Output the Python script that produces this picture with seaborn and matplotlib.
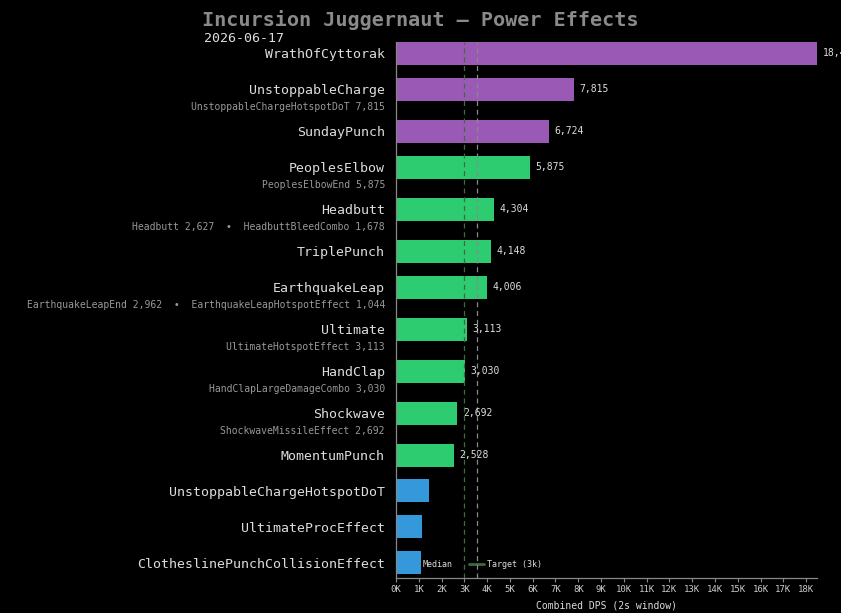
import numpy as np
import pandas as pd
import matplotlib
matplotlib.use("Agg")
import matplotlib.pyplot as plt
import matplotlib.transforms as mtransforms
from matplotlib.lines import Line2D
from matplotlib.ticker import FuncFormatter, MultipleLocator
import seaborn as sns

# Data
effects = ["WrathOfCyttorak", "UnstoppableCharge", "SundayPunch", "PeoplesElbow",
           "Headbutt", "TriplePunch", "EarthquakeLeap", "Ultimate", "HandClap",
           "Shockwave", "MomentumPunch", "UnstoppableChargeHotspotDoT",
           "UltimateProcEffect", "ClotheslinePunchCollisionEffect"]
dps = [18480, 7815, 6724, 5875, 4304, 4148, 4006, 3113, 3030, 2692, 2528, 1450, 1140, 1095]
tier = ["top", "top", "top", "mid", "mid", "mid", "mid", "mid", "mid", "mid", "mid",
        "low", "low", "low"]
components = [
    [],
    [("UnstoppableChargeHotspotDoT", 7815)],
    [],
    [("PeoplesElbowEnd", 5875)],
    [("Headbutt", 2627), ("HeadbuttBleedCombo", 1678)],
    [],
    [("EarthquakeLeapEnd", 2962), ("EarthquakeLeapHotspotEffect", 1044)],
    [("UltimateHotspotEffect", 3113)],
    [("HandClapLargeDamageCombo", 3030)],
    [("ShockwaveMissileEffect", 2692)],
    [], [], [], [],
]
target = 3000
title = "Incursion Juggernaut \u2014 Power Effects"
date = "2026-06-17"

palette = {"top": "#9b59b6", "mid": "#2ecc71", "low": "#3498db"}
target_color = "#3d6b3d"
median_color = "#8a8a8a"

# rows with a component line get a bit more room below
pos = [0.0]
for c in components[:-1]:
    pos.append(pos[-1] + 1 + (1 / 6 if c else 0))

df = pd.DataFrame({"effect": effects, "dps": dps, "tier": tier, "pos": pos})
median = float(np.median(dps))

sns.set_theme(style="dark")
plt.rcParams["font.family"] = ["DejaVu Sans Mono", "DejaVu Sans"]

fig = plt.figure(figsize=(8.41, 6.13), dpi=100, facecolor="black")
ax = fig.add_axes([0.4709, 0.0571, 0.5006, 0.8744])
ax.set_facecolor("black")

sns.barplot(data=df, x="dps", y="pos", hue="tier", palette=palette, orient="h",
            native_scale=True, dodge=False, width=0.64, legend=False, ax=ax,
            saturation=1, linewidth=0, edgecolor="none", errorbar=None)

ax.axvline(target, color=target_color, lw=0.9, ls=(0, (4, 3)), zorder=3)
ax.axvline(median, color=median_color, lw=0.9, ls=(0, (4, 3)), zorder=3)

ax.set_xlim(0, max(dps))
ax.set_ylim(pos[-1] + 0.42, -0.32)

ax.set_yticks(pos)
ax.set_yticklabels(effects, color="#dddddd", fontsize=9.5)
ax.tick_params(axis="y", length=0, pad=8)
ax.xaxis.set_major_locator(MultipleLocator(1000))
ax.xaxis.set_major_formatter(FuncFormatter(lambda v, _: f"{int(v / 1000)}K"))
ax.tick_params(axis="x", colors="#888888", labelcolor="#cccccc", labelsize=6.5,
               length=3, width=0.8, pad=2, bottom=True)
ax.set_xlabel("Combined DPS (2s window)", color="#dddddd", fontsize=7, labelpad=5)
ax.set_ylabel("")

for s in ["top", "right"]:
    ax.spines[s].set_visible(False)
for s in ["left", "bottom"]:
    ax.spines[s].set_visible(True)
    ax.spines[s].set_color("#888888")
    ax.spines[s].set_linewidth(0.9)

# value labels
for v, p, t in zip(dps, pos, tier):
    if t != "low":
        ax.annotate(f"{v:,}", (v, p), xytext=(4, 0), textcoords="offset points",
                    va="center", ha="left", fontsize=7, color="#dddddd",
                    annotation_clip=False)

# component lines under each label
trans = mtransforms.blended_transform_factory(ax.transAxes, ax.transData)
offset = mtransforms.ScaledTranslation(-8 / 72, 0, fig.dpi_scale_trans)
for c, p in zip(components, pos):
    if c:
        txt = "  \u2022  ".join(f"{n} {v:,}" for n, v in c)
        ax.text(0, p + 0.5, txt, transform=trans + offset, ha="right", va="center",
                fontsize=7, color="#999999")

handles = [Line2D([], [], color=median_color, lw=0.9, ls=(0, (4, 3)), label="Median"),
           Line2D([], [], color=target_color, lw=2, label="Target (3k)")]
leg = ax.legend(handles=handles, loc="lower left", ncol=2, frameon=False,
                fontsize=6, labelcolor="#dddddd", handlelength=1.8, columnspacing=2.0,
                handletextpad=0.35, borderaxespad=0.75, borderpad=0.3)
leg.set_zorder(0.5)

fig.text(0.5, 0.967, title, ha="center", va="center", fontsize=14.5,
         fontweight="bold", color="#8a8a8a")
fig.text(0.2426, 0.938, date, ha="left", va="center", fontsize=9.5, color="#dddddd")

fig.savefig("out.png", dpi=100, facecolor="black")
